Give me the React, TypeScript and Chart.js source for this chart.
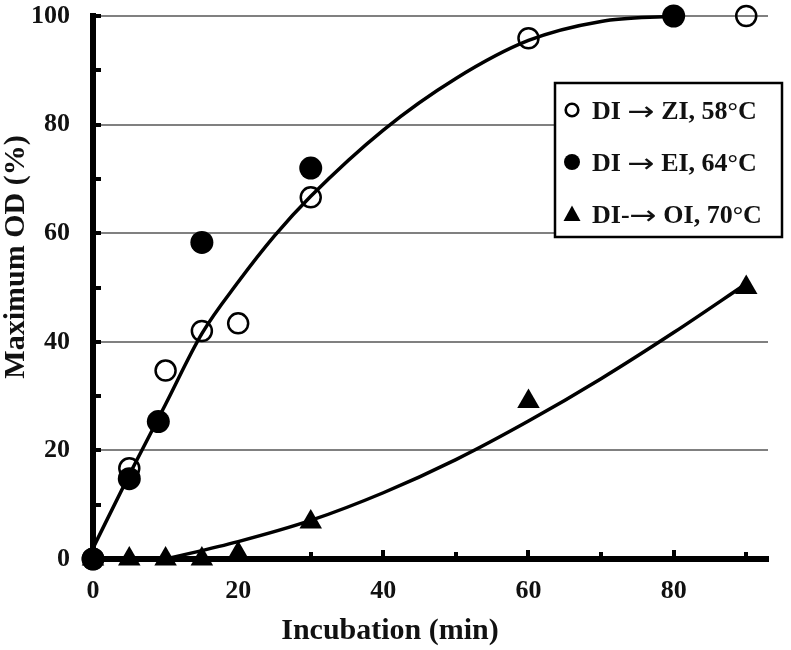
import React, { useEffect, useRef } from 'react';
import { Chart, registerables } from 'chart.js';
Chart.register(...registerables);

const ziX = [0, 5, 10, 15, 20, 30, 60, 90];
const ziY = [0, 16.7, 34.7, 42, 43.4, 66.6, 95.9, 100];
const eiX = [0, 5, 9, 15, 30, 80];
const eiY = [0, 14.8, 25.3, 58.3, 72, 100];
const oiX = [0, 5, 10, 15, 20, 30, 60, 90];
const oiY = [0, 0, 0, 0, 1, 6.8, 29, 50];
// Fitted trend curves
const fitUpperX = [0, 5, 10, 15, 20, 25, 30, 40, 50, 60, 70, 80];
const fitUpperY = [2, 15.5, 28.5, 41.5, 51, 59.5, 66.8, 79, 88.5, 95.5, 99, 100];
const fitLowerX = [10, 20, 30, 40, 50, 60, 70, 80, 90];
const fitLowerY = [0, 3.2, 7.1, 12.2, 18.3, 25.4, 33.2, 41.7, 50.7];

const seriesLabels = ['DI \u2192 ZI, 58\u00B0C', 'DI \u2192 EI, 64\u00B0C', 'DI-\u2192 OI, 70\u00B0C'];
const xTickValues = [0, 10, 20, 30, 40, 50, 60, 70, 80, 90];
const yTickValues = [0, 10, 20, 30, 40, 50, 60, 70, 80, 90, 100];
const xTitle = 'Incubation (min)';
const yTitle = 'Maximum OD (%)';

const FONT = "'Liberation Serif', 'Times New Roman', serif";
const ARROW = '\u2192';

const zip = (xs: number[], ys: number[]) => xs.map((x, i) => ({ x, y: ys[i] }));

const insideTicks = {
  id: 'insideTicks',
  afterDatasetsDraw(chart: any) {
    const ctx = chart.ctx;
    const xs = chart.scales.x;
    const ys = chart.scales.y;
    const axisY = ys.getPixelForValue(0);
    const axisX = xs.getPixelForValue(0);
    ctx.save();
    ctx.fillStyle = '#000';
    xTickValues.forEach((v) => {
      if (v === 0) return;
      const px = xs.getPixelForValue(v);
      const h = v % 20 === 0 ? 9 : 7;
      ctx.fillRect(Math.round(px) - 2, Math.round(axisY) - h, 4, h);
    });
    yTickValues.forEach((v) => {
      if (v === 0) return;
      const py = ys.getPixelForValue(v);
      ctx.fillRect(Math.round(axisX), Math.round(py) - 2, 8, 4);
    });
    ctx.restore();
  },
};

const axisTitles = {
  id: 'axisTitles',
  afterDraw(chart: any) {
    const ctx = chart.ctx;
    ctx.save();
    ctx.fillStyle = '#111';
    ctx.font = `bold 30px ${FONT}`;
    ctx.textAlign = 'center';
    ctx.textBaseline = 'middle';
    ctx.fillText(xTitle, 390, 631);
    ctx.translate(16, 257);
    ctx.rotate(-Math.PI / 2);
    ctx.fillText(yTitle, 0, 0);
    ctx.restore();
  },
};

function drawLabel(ctx: any, text: string, x: number, y: number) {
  const parts = text.split(ARROW);
  let cx = x;
  parts.forEach((p, i) => {
    ctx.font = `bold 26px ${FONT}`;
    ctx.fillText(p, cx, y);
    cx += ctx.measureText(p).width;
    if (i < parts.length - 1) {
      ctx.font = `normal 26px 'DejaVu Sans'`;
      const w = ctx.measureText(ARROW).width;
      ctx.save();
      ctx.translate(cx, y + 1);
      ctx.scale(1.25, 1);
      ctx.fillText(ARROW, 0, 0);
      ctx.restore();
      cx += w * 1.25;
    }
  });
}

const boxLegend = {
  id: 'boxLegend',
  afterDraw(chart: any) {
    const ctx = chart.ctx;
    const bx = 555, by = 83, bw = 227, bh = 154;
    ctx.save();
    ctx.fillStyle = '#fff';
    ctx.fillRect(bx, by, bw, bh);
    ctx.strokeStyle = '#000';
    ctx.lineWidth = 2.5;
    ctx.strokeRect(bx, by, bw, bh);
    const rows = [110, 162, 214];
    chart.data.datasets.forEach((ds: any, i: number) => {
      if (i > 2) return;
      const cy = rows[i];
      const mx = 572;
      ctx.beginPath();
      if (ds.pointStyle === 'triangle') {
        ctx.moveTo(mx, cy - 8.5);
        ctx.lineTo(mx + 8.5, cy + 7);
        ctx.lineTo(mx - 8.5, cy + 7);
        ctx.closePath();
        ctx.fillStyle = '#000';
        ctx.fill();
      } else if (ds.backgroundColor === '#000') {
        ctx.arc(mx, cy, 8, 0, Math.PI * 2);
        ctx.fillStyle = '#000';
        ctx.fill();
      } else {
        ctx.arc(mx, cy, 6.3, 0, Math.PI * 2);
        ctx.lineWidth = 2.6;
        ctx.strokeStyle = '#000';
        ctx.stroke();
      }
      ctx.fillStyle = '#111';
      ctx.textAlign = 'left';
      ctx.textBaseline = 'alphabetic';
      drawLabel(ctx, ds.label, 592, cy + 8.6);
    });
    ctx.restore();
  },
};

export default function App() {
  const ref = useRef<HTMLCanvasElement | null>(null);
  useEffect(() => {
    if (!ref.current) return;
    const chart = new Chart(ref.current, {
      type: 'scatter',
      data: {
        datasets: [
          {
            label: seriesLabels[0],
            data: zip(ziX, ziY),
            pointStyle: 'circle',
            pointRadius: 10,
            pointBorderWidth: 2.5,
            borderColor: '#000',
            backgroundColor: 'rgba(0,0,0,0)',
            showLine: false,
            clip: false,
          } as any,
          {
            label: seriesLabels[1],
            data: zip(eiX, eiY),
            pointStyle: 'circle',
            pointRadius: 11.5,
            pointBorderWidth: 0,
            borderColor: '#000',
            backgroundColor: '#000',
            showLine: false,
            clip: false,
          },
          {
            label: seriesLabels[2],
            data: zip(oiX, oiY),
            pointStyle: 'triangle',
            pointRadius: 13,
            pointBorderWidth: 0,
            borderColor: '#000',
            backgroundColor: '#000',
            showLine: false,
            clip: false,
          },
          {
            label: 'fit upper',
            data: zip(fitUpperX, fitUpperY),
            showLine: true,
            pointRadius: 0,
            borderColor: '#000',
            backgroundColor: '#000',
            borderWidth: 3.5,
            cubicInterpolationMode: 'monotone',
            clip: false,
          },
          {
            label: 'fit lower',
            data: zip(fitLowerX, fitLowerY),
            showLine: true,
            pointRadius: 0,
            borderColor: '#000',
            backgroundColor: '#000',
            borderWidth: 3.5,
            cubicInterpolationMode: 'monotone',
            clip: false,
          },
        ],
      },
      options: {
        responsive: false,
        animation: false,
        devicePixelRatio: 1,
        layout: { padding: { top: 16, right: 23, left: 0, bottom: 0 } },
        plugins: {
          legend: { display: false },
          tooltip: { enabled: false },
        },
        scales: {
          x: {
            type: 'linear',
            min: 0,
            max: 93,
            afterBuildTicks: (s: any) => {
              s.ticks = xTickValues.map((v) => ({ value: v }));
            },
            afterFit: (s: any) => {
              s.height = 91;
              s.paddingLeft = 0;
              s.paddingRight = 0;
            },
            grid: { display: false, drawTicks: false },
            border: { display: true, color: '#000', width: 6 },
            ticks: {
              autoSkip: false,
              maxRotation: 0,
              padding: 17,
              color: '#111',
              font: { family: FONT, size: 26, weight: 'bold' },
              callback: (v: any) => (Number(v) % 20 === 0 ? String(v) : ''),
            },
          },
          y: {
            type: 'linear',
            min: 0,
            max: 100,
            afterBuildTicks: (s: any) => {
              s.ticks = yTickValues.map((v) => ({ value: v }));
            },
            afterFit: (s: any) => {
              s.width = 93;
              s.paddingTop = 0;
              s.paddingBottom = 0;
            },
            grid: {
              drawTicks: false,
              lineWidth: 2,
              color: (c: any) => (c.tick && c.tick.value % 20 === 0 && c.tick.value > 0 ? '#808080' : 'rgba(0,0,0,0)'),
            },
            border: { display: true, color: '#000', width: 6 },
            ticks: {
              autoSkip: false,
              padding: 23,
              color: '#111',
              font: { family: FONT, size: 26, weight: 'bold' },
              callback: (v: any) => (Number(v) % 20 === 0 ? String(v) : ''),
            },
          },
        },
      } as any,
      plugins: [insideTicks, boxLegend, axisTitles],
    });
    return () => chart.destroy();
  }, []);
  return (
    <canvas
      ref={ref}
      width={791}
      height={650}
      style={{ position: 'absolute', left: 0, top: 0, width: 791, height: 650 }}
    />
  );
}
